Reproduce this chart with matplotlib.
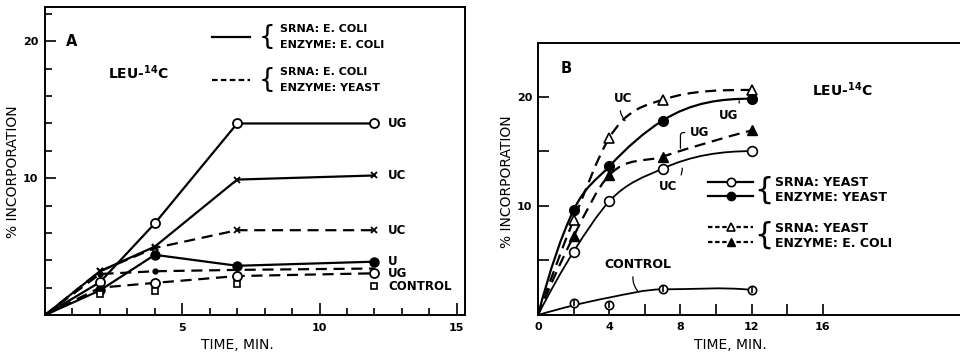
import numpy as np
import matplotlib.pyplot as plt
from matplotlib.lines import Line2D
from matplotlib.path import Path
from matplotlib.patches import PathPatch
from matplotlib.ticker import FixedLocator, MultipleLocator

plt.rcParams['font.family'] = 'DejaVu Sans'
plt.rcParams['font.weight'] = 'bold'
plt.rcParams['mathtext.default'] = 'bf'

# ---- panel A data (time in min, % incorporation) ----
t_a = [0, 2, 4, 7, 12]
a_ug_coli = [0, 2.4, 6.7, 14.0, 14.0]       # solid, open circle
a_uc_coli = [0, 3.2, 5.0, 9.9, 10.2]        # solid, x
a_u_coli = [0, 1.8, 4.4, 3.6, 3.9]          # solid, filled circle
a_uc_yeast = [0, 3.2, 4.9, 6.2, 6.2]        # dashed, x
a_u_yeast = [0, 3.0, 3.2, 3.3, 3.4]         # dashed, small dot
a_ug_yeast = [0, 2.0, 2.35, 2.85, 3.05]     # dashed, open circle
t_ctrl_a = [2, 4, 7, 12]
a_control = [1.55, 1.75, 2.3, 2.1]

# right-hand labels of panel A
a_labels = ["UG", "UC", "UC", "U", "UG", "CONTROL"]
a_label_y = [14.0, 10.2, 6.2, 3.9, 3.05, 2.1]

# ---- panel B data ----
t_b = [0, 2, 4, 7, 12]
b_uc_ecoli = [0, 8.7, 16.2, 19.7, 20.6]     # dashed, open triangle
b_ug_yeast = [0, 9.6, 13.6, 17.8, 19.8]     # solid, filled circle
b_ug_ecoli = [0, 7.2, 12.8, 14.5, 16.9]     # dashed, filled triangle
b_uc_yeast = [0, 5.8, 10.4, 13.4, 15.0]     # solid, open circle
t_ctrl_b = [2, 4, 7, 12]
b_control = [1.1, 0.9, 2.35, 2.3]
# drawn control curve
t_ctrl_fit = [0, 4, 7, 12]
b_control_fit = [0, 1.6, 2.35, 2.3]


def slopes(x, y):
    # three-point tangents, limited so the curve does not overshoot
    h = np.diff(x)
    d = np.diff(y) / h
    n = len(x)
    m = np.zeros(n)
    for k in range(1, n - 1):
        if d[k - 1] * d[k] > 0:
            m[k] = (h[k] * d[k - 1] + h[k - 1] * d[k]) / (h[k - 1] + h[k])
            lim = 3 * min(abs(d[k - 1]), abs(d[k]))
            m[k] = np.sign(m[k]) * min(abs(m[k]), lim)
    m[0] = ((2 * h[0] + h[1]) * d[0] - h[0] * d[1]) / (h[0] + h[1])
    m[-1] = ((2 * h[-1] + h[-2]) * d[-1] - h[-1] * d[-2]) / (h[-1] + h[-2])
    if m[-1] * d[-1] < 0:
        m[-1] = 0
    return m


def smooth(ax, x, y, **kw):
    x = np.asarray(x, float)
    y = np.asarray(y, float)
    m = slopes(x, y)
    verts = [(x[0], y[0])]
    codes = [Path.MOVETO]
    for i in range(len(x) - 1):
        h = x[i + 1] - x[i]
        verts += [(x[i] + h / 3, y[i] + m[i] * h / 3),
                  (x[i + 1] - h / 3, y[i + 1] - m[i + 1] * h / 3),
                  (x[i + 1], y[i + 1])]
        codes += [Path.CURVE4] * 3
    ax.add_patch(PathPatch(Path(verts, codes), fill=False, **kw))


fig = plt.figure(figsize=(9.6, 3.58), dpi=100)

# ================= panel A =================
ax = fig.add_axes([0.0469, 0.120, 0.4375, 0.860])
lw = 1.6
ax.plot(t_a, a_ug_coli, '-', color='k', lw=lw, marker='o', ms=6.5, mfc='white', mew=1.3, markevery=[1, 2, 3, 4])
ax.plot(t_a, a_uc_coli, '-', color='k', lw=lw, marker='x', ms=5, mew=1.3, markevery=[1, 2, 3, 4])
ax.plot(t_a, a_u_coli, '-', color='k', lw=lw, marker='o', ms=6.5, mfc='k', markevery=[1, 2, 3, 4])
ax.plot(t_a, a_uc_yeast, color='k', lw=lw, dashes=(5, 3), marker='x', ms=5, mew=1.3, markevery=[1, 2, 3, 4])
ax.plot(t_a, a_u_yeast, color='k', lw=lw, dashes=(5, 3), marker='o', ms=3.5, mfc='k', markevery=[1, 2])
ax.plot(t_a, a_ug_yeast, color='k', lw=lw, dashes=(5, 3), marker='o', ms=6.5, mfc='white', mew=1.3, markevery=[2, 3, 4])
ax.plot(t_ctrl_a, a_control, 's', color='k', ms=5, mfc='white', mew=1.2, ls='none')

for lab, yv in zip(a_labels, a_label_y):
    ax.text(12.5, yv, lab, fontsize=8.5, va='center', ha='left')

ax.text(0.98, 20, "A", fontsize=10.5, ha='center', va='center')
ax.text(2.3, 17.7, r"LEU-$^{14}$C", fontsize=10, ha='left', va='center')

leg_kw = dict(loc='center left', frameon=False, handlelength=3.4, handletextpad=2.7,
              borderpad=0, borderaxespad=0, prop={'size': 8, 'weight': 'bold'})
leg1 = ax.legend([Line2D([], [], color='k', lw=lw)], ["SRNA: E. COLI\nENZYME: E. COLI"],
                 bbox_to_anchor=(0.398, 0.903), **leg_kw)
for t in leg1.get_texts():
    t.set_linespacing(1.75)
ax.add_artist(leg1)
leg2 = ax.legend([Line2D([], [], color='k', lw=lw, dashes=(2.5, 1.5))], ["SRNA: E. COLI\nENZYME: YEAST"],
                 bbox_to_anchor=(0.398, 0.765), **leg_kw)
for t in leg2.get_texts():
    t.set_linespacing(1.75)
for yb in [0.903, 0.765]:
    ax.text(0.53, yb, "{", transform=ax.transAxes, fontsize=19, fontweight='normal',
            ha='center', va='center')

ax.set_xlim(0, 15.3)
ax.set_ylim(0, 22.5)
ax.xaxis.set_major_locator(FixedLocator([5, 10, 15]))
ax.xaxis.set_minor_locator(MultipleLocator(1))
ax.yaxis.set_major_locator(FixedLocator([10, 20]))
ax.yaxis.set_minor_locator(MultipleLocator(2))
ax.tick_params(which='both', direction='in', width=1.2, labelsize=8)
ax.tick_params(axis='x', which='major', length=9, pad=6)
ax.tick_params(axis='x', which='minor', length=5)
ax.tick_params(axis='y', which='major', length=8, pad=5)
ax.tick_params(axis='y', which='minor', length=5)
for s in ax.spines.values():
    s.set_linewidth(1.4)
ax.set_xlabel("TIME, MIN.", fontsize=10)
ax.xaxis.set_label_coords(0.457, -0.075)
ax.set_ylabel("% INCORPORATION", fontsize=10)
ax.yaxis.set_label_coords(-0.06, 0.464)

# ================= panel B =================
bx = fig.add_axes([0.5604, 0.120, 0.4396, 0.760])
smooth(bx, t_b, b_uc_ecoli, color='k', lw=lw, linestyle=(0, (5, 3)))
smooth(bx, t_b, b_ug_yeast, color='k', lw=lw)
smooth(bx, t_b, b_ug_ecoli, color='k', lw=lw, linestyle=(0, (5, 3)))
smooth(bx, t_b, b_uc_yeast, color='k', lw=1.3)
smooth(bx, t_ctrl_fit, b_control_fit, color='k', lw=1.3)

bx.plot(t_b[1:], b_uc_ecoli[1:], '^', color='k', ms=7, mfc='white', mew=1.2)
bx.plot(t_b[1:], b_ug_yeast[1:], 'o', color='k', ms=7, mfc='k')
bx.plot(t_b[1:], b_ug_ecoli[1:], '^', color='k', ms=7, mfc='k')
bx.plot(t_b[1:], b_uc_yeast[1:], 'o', color='k', ms=7, mfc='white', mew=1.2)
bx.plot(t_ctrl_b, b_control, 'o', color='k', ms=6, mfc='white', mew=1.2)
bx.plot(t_ctrl_b, b_control, '|', color='k', ms=5, mew=1.2)

lead = dict(arrowstyle='-', lw=0.9, color='k', connectionstyle='arc3,rad=0.4')
bx.annotate("UC", xy=(5.0, 17.6), xytext=(4.8, 19.8), fontsize=8.5, ha='center', va='center', arrowprops=lead)
bx.annotate("UG", xy=(11.3, 19.6), xytext=(10.7, 18.3), fontsize=8.5, ha='center', va='center', arrowprops=lead)
bx.annotate("UG", xy=(8.0, 15.0), xytext=(9.1, 16.7), fontsize=8.5, ha='center', va='center',
            arrowprops=dict(arrowstyle='-', lw=0.9, color='k', connectionstyle='angle,angleA=180,angleB=90,rad=3'))
bx.annotate("UC", xy=(8.1, 13.7), xytext=(7.3, 11.8), fontsize=8.5, ha='center', va='center', arrowprops=lead)
bx.annotate("CONTROL", xy=(5.7, 2.0), xytext=(5.6, 4.6), fontsize=9, ha='center', va='center', arrowprops=lead)

bx.text(1.57, 22.6, "B", fontsize=10.5, ha='center', va='center')
bx.text(15.4, 20.6, r"LEU-$^{14}$C", fontsize=10, ha='left', va='center')

h1 = [Line2D([], [], color='k', lw=lw, marker='o', ms=6, mfc='white', mew=1.2),
      Line2D([], [], color='k', lw=lw, marker='o', ms=6, mfc='k')]
h2 = [Line2D([], [], color='k', lw=lw, dashes=(2, 1.2), marker='^', ms=6, mfc='white', mew=1.2),
      Line2D([], [], color='k', lw=lw, dashes=(2, 1.2), marker='^', ms=6, mfc='k')]
legb_kw = dict(loc='center left', frameon=False, handlelength=3.6, handletextpad=1.75, labelspacing=0.15,
               borderpad=0, borderaxespad=0, prop={'size': 9, 'weight': 'bold'})
lb1 = bx.legend(h1, ["SRNA: YEAST", "ENZYME: YEAST"], bbox_to_anchor=(0.403, 0.46), **legb_kw)
bx.add_artist(lb1)
bx.legend(h2, ["SRNA: YEAST", "ENZYME: E. COLI"], bbox_to_anchor=(0.403, 0.292), **legb_kw)
for yb in [0.46, 0.292]:
    bx.text(0.535, yb, "{", transform=bx.transAxes, fontsize=22, fontweight='normal',
            ha='center', va='center')

bx.set_xlim(0, 23.7)
bx.set_ylim(0, 24.9)
bx.xaxis.set_major_locator(FixedLocator([0, 4, 8, 12, 16]))
bx.xaxis.set_minor_locator(FixedLocator([2, 6, 10, 14]))
bx.yaxis.set_major_locator(FixedLocator([10, 20]))
bx.yaxis.set_minor_locator(FixedLocator([5, 15]))
bx.tick_params(which='both', direction='in', width=1.2, labelsize=8, length=8)
bx.tick_params(axis='x', pad=5)
bx.tick_params(axis='y', pad=4)
for s in bx.spines.values():
    s.set_linewidth(1.4)
bx.spines['right'].set_visible(False)
bx.set_xlabel("TIME, MIN.", fontsize=10)
bx.xaxis.set_label_coords(0.455, -0.085)
bx.set_ylabel("% INCORPORATION", fontsize=10)
bx.yaxis.set_label_coords(-0.057, 0.489)

fig.savefig("out.png", dpi=100)
